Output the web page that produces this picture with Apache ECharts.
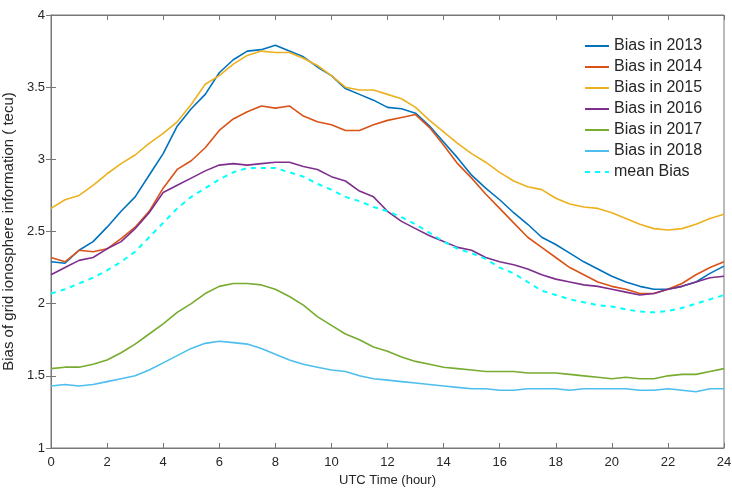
<!DOCTYPE html>
<html>
<head>
<meta charset="utf-8">
<script src="https://cdn.jsdelivr.net/npm/echarts@6/dist/echarts.min.js"></script>
<style>
  html, body { margin: 0; padding: 0; background: #fff; }
  #main { width: 732px; height: 492px; }
</style>
</head>
<body>
<div id="main"></div>
<script>
// hours of the day, half hour steps
var hours = [0, 0.5, 1, 1.5, 2, 2.5, 3, 3.5, 4, 4.5, 5, 5.5, 6, 6.5, 7, 7.5, 8, 8.5, 9, 9.5,
  10, 10.5, 11, 11.5, 12, 12.5, 13, 13.5, 14, 14.5, 15, 15.5, 16, 16.5, 17, 17.5, 18, 18.5, 19, 19.5,
  20, 20.5, 21, 21.5, 22, 22.5, 23, 23.5, 24];

var bias2013 = [2.29, 2.28, 2.37, 2.43, 2.53, 2.64, 2.74, 2.89, 3.04, 3.23, 3.35, 3.45, 3.60, 3.69, 3.75, 3.76, 3.79, 3.75, 3.71, 3.64,
  3.58, 3.49, 3.45, 3.41, 3.36, 3.35, 3.32, 3.23, 3.12, 3.01, 2.89, 2.80, 2.72, 2.63, 2.55, 2.46, 2.41, 2.35, 2.29, 2.24,
  2.19, 2.15, 2.12, 2.10, 2.10, 2.12, 2.15, 2.21, 2.26];
var bias2014 = [2.32, 2.29, 2.37, 2.36, 2.38, 2.45, 2.53, 2.64, 2.80, 2.93, 2.99, 3.08, 3.20, 3.28, 3.33, 3.37, 3.355, 3.37, 3.30, 3.26,
  3.24, 3.20, 3.20, 3.24, 3.27, 3.29, 3.31, 3.22, 3.10, 2.97, 2.87, 2.76, 2.66, 2.56, 2.46, 2.39, 2.32, 2.25, 2.20, 2.15,
  2.12, 2.10, 2.07, 2.07, 2.10, 2.14, 2.20, 2.25, 2.29];
var bias2015 = [2.66, 2.72, 2.75, 2.82, 2.90, 2.97, 3.03, 3.11, 3.18, 3.26, 3.38, 3.52, 3.58, 3.66, 3.72, 3.75, 3.74, 3.74, 3.70, 3.65,
  3.58, 3.50, 3.48, 3.48, 3.45, 3.42, 3.36, 3.27, 3.19, 3.11, 3.04, 2.98, 2.91, 2.85, 2.81, 2.79, 2.73, 2.69, 2.67, 2.66,
  2.63, 2.59, 2.55, 2.52, 2.51, 2.52, 2.55, 2.59, 2.62];
var bias2016 = [2.20, 2.25, 2.30, 2.32, 2.38, 2.43, 2.52, 2.63, 2.77, 2.82, 2.87, 2.92, 2.96, 2.97, 2.96, 2.97, 2.98, 2.98, 2.95, 2.93,
  2.88, 2.85, 2.78, 2.74, 2.64, 2.57, 2.52, 2.47, 2.43, 2.39, 2.37, 2.32, 2.29, 2.27, 2.24, 2.20, 2.17, 2.15, 2.13, 2.12,
  2.10, 2.08, 2.06, 2.07, 2.10, 2.12, 2.15, 2.18, 2.19];
var bias2017 = [1.55, 1.56, 1.56, 1.58, 1.61, 1.66, 1.72, 1.79, 1.86, 1.94, 2.00, 2.07, 2.12, 2.14, 2.14, 2.13, 2.10, 2.05, 1.99, 1.91,
  1.85, 1.79, 1.75, 1.70, 1.67, 1.63, 1.60, 1.58, 1.56, 1.55, 1.54, 1.53, 1.53, 1.53, 1.52, 1.52, 1.52, 1.51, 1.50, 1.49,
  1.48, 1.49, 1.48, 1.48, 1.50, 1.51, 1.51, 1.53, 1.55];
var bias2018 = [1.43, 1.44, 1.43, 1.44, 1.46, 1.48, 1.50, 1.54, 1.59, 1.64, 1.69, 1.725, 1.74, 1.73, 1.72, 1.69, 1.65, 1.61, 1.58, 1.56,
  1.54, 1.53, 1.50, 1.48, 1.47, 1.46, 1.45, 1.44, 1.43, 1.42, 1.41, 1.41, 1.40, 1.40, 1.41, 1.41, 1.41, 1.40, 1.41, 1.41,
  1.41, 1.41, 1.40, 1.40, 1.41, 1.40, 1.39, 1.41, 1.41];
var meanBias = [2.07, 2.10, 2.14, 2.18, 2.23, 2.29, 2.36, 2.46, 2.56, 2.66, 2.74, 2.80, 2.86, 2.91, 2.94, 2.94, 2.94, 2.91, 2.88, 2.83,
  2.79, 2.74, 2.71, 2.67, 2.64, 2.60, 2.55, 2.49, 2.43, 2.38, 2.35, 2.31, 2.25, 2.21, 2.15, 2.09, 2.06, 2.03, 2.01, 1.99,
  1.98, 1.96, 1.945, 1.94, 1.95, 1.97, 2.00, 2.03, 2.06];

var seriesNames = ['Bias in 2013', 'Bias in 2014', 'Bias in 2015', 'Bias in 2016', 'Bias in 2017', 'Bias in 2018', 'mean Bias'];
var seriesData = [bias2013, bias2014, bias2015, bias2016, bias2017, bias2018, meanBias];
var colors = ['#0072BD', '#D95319', '#EDB120', '#7E2F8E', '#77AC30', '#4DBEEE', '#00FFFF'];

function pairs(vals) {
  var out = [];
  for (var i = 0; i < vals.length; i++) out.push([hours[i], vals[i]]);
  return out;
}

var font = 'Liberation Sans, Arial, sans-serif';
var axisColor = '#777';
var textColor = '#262626';

var series = [];
for (var i = 0; i < seriesNames.length; i++) {
  series.push({
    name: seriesNames[i],
    type: 'line',
    data: pairs(seriesData[i]),
    showSymbol: false,
    symbol: 'none',
    color: colors[i],
    lineStyle: {
      width: i == 6 ? 2 : 1.6,
      type: i == 6 ? [5, 5] : 'solid',
      color: colors[i]
    },
    animation: false
  });
}

var myChart = echarts.init(document.getElementById('main'));
var option = {
  backgroundColor: '#fff',
  color: colors,
  textStyle: { fontFamily: font },
  grid: {
    left: 51, top: 15, right: 8, bottom: 44,
    outerBoundsMode: 'none',
    containLabel: false,
    show: true, borderColor: axisColor, borderWidth: 1
  },
  legend: {
    orient: 'vertical',
    left: 579,
    top: 33,
    itemWidth: 24,
    itemHeight: 14,
    itemGap: 5,
    itemStyle: { opacity: 0 },
    textStyle: { fontSize: 16, color: textColor, fontFamily: font, lineHeight: 16 },
    data: seriesNames
  },
  xAxis: [{
    type: 'value',
    min: 0, max: 24, interval: 2,
    name: 'UTC Time (hour)',
    nameLocation: 'middle',
    nameGap: 26,
    nameTextStyle: { fontSize: 13, color: textColor },
    axisLine: { show: true, lineStyle: { color: axisColor } },
    axisTick: { inside: true, length: 5, lineStyle: { color: axisColor } },
    axisLabel: { fontSize: 13, color: textColor, margin: 8 },
    splitLine: { show: false }
  }, {
    type: 'value', position: 'top',
    min: 0, max: 24, interval: 2,
    axisLine: { show: true, lineStyle: { color: axisColor } },
    axisTick: { inside: true, length: 5, lineStyle: { color: axisColor } },
    axisLabel: { show: false },
    splitLine: { show: false }
  }],
  yAxis: [{
    type: 'value',
    min: 1, max: 4, interval: 0.5,
    name: 'Bias of grid ionosphere information ( tecu)',
    nameLocation: 'middle',
    nameGap: 28,
    nameTextStyle: { fontSize: 15, color: textColor },
    axisLine: { show: true, lineStyle: { color: axisColor } },
    axisTick: { inside: true, length: 5, lineStyle: { color: axisColor } },
    axisLabel: { fontSize: 13, color: textColor, margin: 6 },
    splitLine: { show: false }
  }, {
    type: 'value', position: 'right',
    min: 1, max: 4, interval: 0.5,
    axisLine: { show: true, lineStyle: { color: axisColor } },
    axisTick: { inside: true, length: 5, lineStyle: { color: axisColor } },
    axisLabel: { show: false },
    splitLine: { show: false }
  }],
  series: series
};
myChart.setOption(option);
</script>
</body>
</html>
